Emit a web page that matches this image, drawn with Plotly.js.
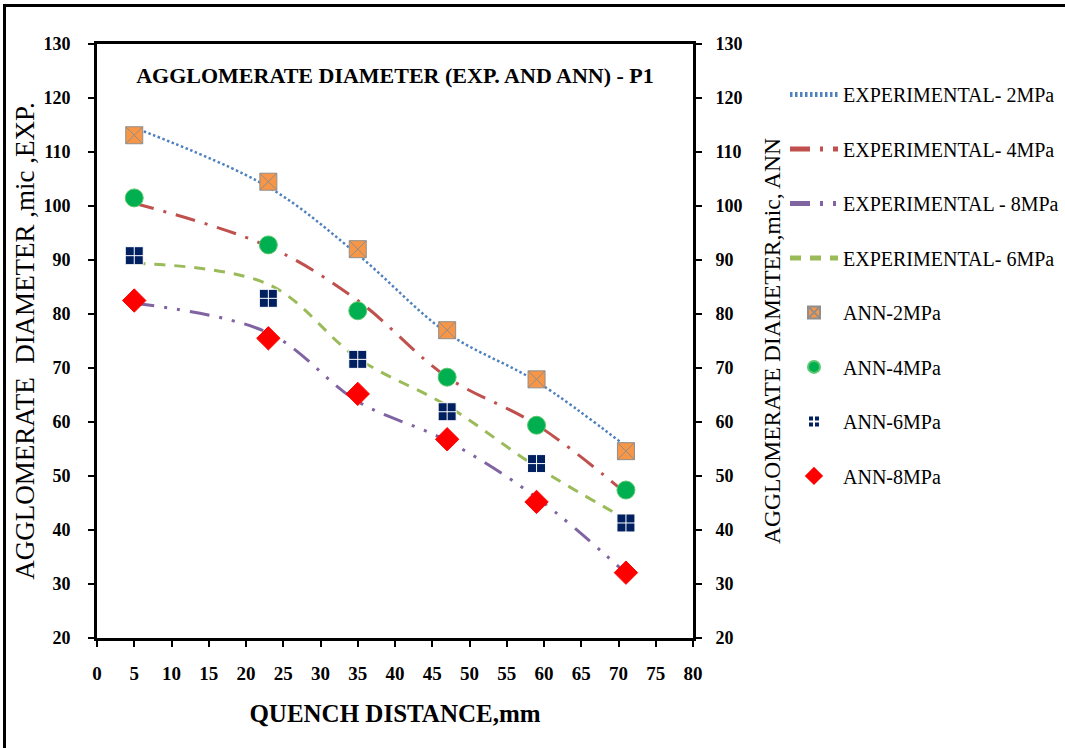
<!DOCTYPE html>
<html>
<head>
<meta charset="utf-8">
<script src="https://cdn.plot.ly/plotly-3.0.1.min.js"></script>
<style>
  html, body { margin: 0; padding: 0; background: #fff; }
  #wrap { position: relative; width: 1065px; height: 748px; overflow: hidden; }
  #chart { position: absolute; left: 0; top: 0; width: 1065px; height: 748px; }
  #frame { position: absolute; left: 3px; top: 4px; width: 1100px; height: 800px;
           border-left: 3px solid #000; border-top: 3px solid #000; pointer-events: none; }
</style>
</head>
<body>
<div id="wrap">
  <div id="chart"></div>
  <div id="frame"></div>
</div>
<script>
// Quench distance (mm)
const distance = [5, 23, 35, 47, 59, 71];

// Experimental curves (left axis)
const exp2MPa = [114.5, 103.5, 91.0, 76.5, 67.5, 55.5];
const exp4MPa = [100.5, 92.5, 82.5, 68.3, 59.5, 46.8];
const exp8MPa = [82.0, 76.5, 63.8, 56.5, 46.0, 32.0];
const exp6MPa = [89.4, 85.5, 71.8, 63.0, 51.7, 42.0];

// ANN predictions (right axis)
const ann2MPa = [113.1, 104.5, 92.0, 77.0, 67.9, 54.6];
const ann4MPa = [101.5, 92.8, 80.6, 68.3, 59.4, 47.4];
const ann6MPa = [90.8, 82.9, 71.6, 61.9, 52.3, 41.3];
const ann8MPa = [82.5, 75.5, 65.2, 56.8, 45.2, 32.1];

const xTicks = [0, 5, 10, 15, 20, 25, 30, 35, 40, 45, 50, 55, 60, 65, 70, 75, 80];
const yTicks = [20, 30, 40, 50, 60, 70, 80, 90, 100, 110, 120, 130];

const SERIF = '"Liberation Serif", "Times New Roman", serif';

function expTrace(name, y, color, width, dash, grp) {
  return {
    x: distance, y: y, name: name, type: 'scatter', mode: 'lines',
    line: { color: color, width: width, dash: dash, shape: 'spline', smoothing: 1 },
    legendgroup: grp, xaxis: 'x', yaxis: 'y', hoverinfo: 'x+y'
  };
}
function annTrace(name, y, symbol, fill, lineColor, size, grp) {
  return {
    x: distance, y: y, name: name, type: 'scatter', mode: 'markers',
    marker: { symbol: symbol, color: fill, size: size, line: { color: lineColor, width: 1 } },
    legendgroup: grp, xaxis: 'x', yaxis: 'y2', hoverinfo: 'x+y'
  };
}

const traces = [
  expTrace('EXPERIMENTAL- 2MPa', exp2MPa, '#4F81BD', 2.5, '2.5px,2.5px', 'g1'),
  expTrace('EXPERIMENTAL- 4MPa', exp4MPa, '#C0504D', 3, '20px,10px,3px,10px', 'g2'),
  expTrace('EXPERIMENTAL - 8MPa', exp8MPa, '#8064A2', 3, '20px,10px,3px,10px,3px,10px', 'g3'),
  expTrace('EXPERIMENTAL- 6MPa', exp6MPa, '#9BBB59', 3, '11px,9px', 'g4'),
  annTrace('ANN-2MPa', ann2MPa, 'square-x', '#F79646', '#8E8E8E', 17, 'g5'),
  annTrace('ANN-4MPa', ann4MPa, 'circle', '#00B050', '#5CC870', 18, 'g6'),
  annTrace('ANN-6MPa', ann6MPa, 'square-cross', '#002060', '#FFFFFF', 18, 'g7'),
  annTrace('ANN-8MPa', ann8MPa, 'diamond', '#FF0000', '#FF0000', 18, 'g8')
];

const axisCommon = {
  showline: true, linecolor: '#000', linewidth: 3,
  ticks: 'outside', ticklen: 6, tickwidth: 2, tickcolor: '#000',
  showgrid: false, zeroline: false, automargin: false,
  tickfont: { family: SERIF, size: 18, color: '#000', weight: 'bold' }
};

const layout = {
  width: 1065, height: 748,
  paper_bgcolor: '#fff', plot_bgcolor: '#fff',
  margin: { l: 97, r: 372, t: 44, b: 110, autoexpand: false },
  title: {
    text: '<b>AGGLOMERATE DIAMETER (EXP. AND ANN) - P1</b>',
    font: { family: SERIF, size: 22, color: '#000' },
    x: 0.5, xref: 'paper', xanchor: 'center',
    y: 1 - 75 / 748, yref: 'container', yanchor: 'middle'
  },
  xaxis: Object.assign({}, axisCommon, {
    range: [0, 80], tickvals: xTicks, ticktext: xTicks.map(String),
    mirror: true, ticklabelstandoff: 10,
    tickfont: { family: SERIF, size: 19, color: '#000', weight: 'bold' },
    title: { text: '<b>QUENCH DISTANCE,mm</b>', font: { family: SERIF, size: 25, color: '#000' }, standoff: 22 }
  }),
  yaxis: Object.assign({}, axisCommon, {
    range: [20, 130], tickvals: yTicks, ticktext: yTicks.map(String),
    ticklabelstandoff: 14,
    title: { text: 'AGGLOMERATE  DIAMETER ,mic ,EXP.', font: { family: SERIF, size: 27, color: '#000' }, standoff: 1 }
  }),
  yaxis2: Object.assign({}, axisCommon, {
    range: [20, 130], tickvals: yTicks, ticktext: yTicks.map(String),
    overlaying: 'y', side: 'right', anchor: 'x',
    ticklabelstandoff: 10,
    title: { text: 'AGGLOMERATE DIAMETER,mic, ANN', font: { family: SERIF, size: 23.5, color: '#000' }, standoff: 29 }
  }),
  legend: {
    x: 785 / 1065, xanchor: 'left', xref: 'container',
    y: 0.948, yanchor: 'top', yref: 'paper',
    font: { family: SERIF, size: 20, color: '#000' },
    traceorder: 'grouped', tracegroupgap: 25.5, itemwidth: 48,
    itemsizing: 'constant', bgcolor: 'rgba(0,0,0,0)', borderwidth: 0
  },
  showlegend: true
};

Plotly.newPlot('chart', traces, layout, { displayModeBar: false, staticPlot: true });
</script>
</body>
</html>
